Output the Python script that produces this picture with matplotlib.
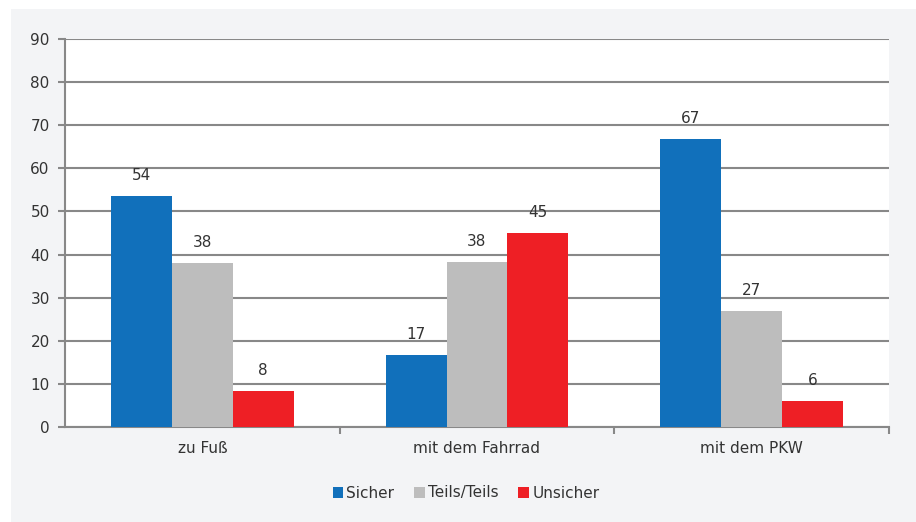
import numpy as np
import matplotlib.pyplot as plt
from matplotlib.patches import Rectangle

categories = ['zu Fuß', 'mit dem Fahrrad', 'mit dem PKW']
sicher = [53.6, 16.7, 66.8]
teils = [38.0, 38.3, 27.0]
unsicher = [8.3, 45.0, 6.0]
labels_sicher = [54, 17, 67]
labels_teils = [38, 38, 27]
labels_unsicher = [8, 45, 6]

series = [
    ('Sicher', sicher, labels_sicher, '#1170bb'),
    ('Teils/Teils', teils, labels_teils, '#bdbdbd'),
    ('Unsicher', unsicher, labels_unsicher, '#ee1f25'),
]

text_col = '#333333'
grid_col = '#888888'

fig = plt.figure(figsize=(9.16, 5.22), dpi=100, facecolor='white')
bg = Rectangle((11 / 916, 0), 1, 513 / 522, transform=fig.transFigure,
               facecolor='#f3f4f6', edgecolor='none', zorder=-10)
fig.add_artist(bg)
ax = fig.add_axes([65 / 916, 1 - 427 / 522, 824 / 916, 388 / 522])
ax.set_facecolor('white')

x = np.arange(len(categories))
w = 0.222
for i, (name, vals, labs, col) in enumerate(series):
    pos = x + (i - 1) * w
    ax.bar(pos, vals, width=w, color=col, label=name, zorder=3)
    for p, v, l in zip(pos, vals, labs):
        ax.text(p, v + 3.0, str(l), ha='center', va='bottom', fontsize=11, color=text_col)

ax.set_xlim(-0.5, 2.5)
ax.set_ylim(0, 90)
ax.set_yticks(range(0, 91, 10))
ax.yaxis.grid(True, color=grid_col, linewidth=1.5, zorder=1)
ax.set_axisbelow(True)
ax.set_xticks(x)
ax.set_xticklabels(categories)
ax.set_xticks([0.5, 1.5, 2.5], minor=True)
ax.tick_params(axis='x', which='major', length=0, pad=10, labelsize=11, labelcolor=text_col)
ax.tick_params(axis='x', which='minor', length=5, width=1.5, color=grid_col)
ax.tick_params(axis='y', length=5, width=1.5, color=grid_col, labelsize=11, labelcolor=text_col, pad=6)

for s in ['top', 'right']:
    ax.spines[s].set_visible(False)
for s in ['left', 'bottom']:
    ax.spines[s].set_color(grid_col)
    ax.spines[s].set_linewidth(1.5)

fig.legend(loc='center', bbox_to_anchor=(466 / 916, 1 - 493 / 522), ncol=3, frameon=False,
           fontsize=11, handlelength=0.7, handleheight=0.7, handletextpad=0.2,
           columnspacing=1.3, labelcolor=text_col)

fig.savefig('out.png', dpi=100, facecolor='white')
